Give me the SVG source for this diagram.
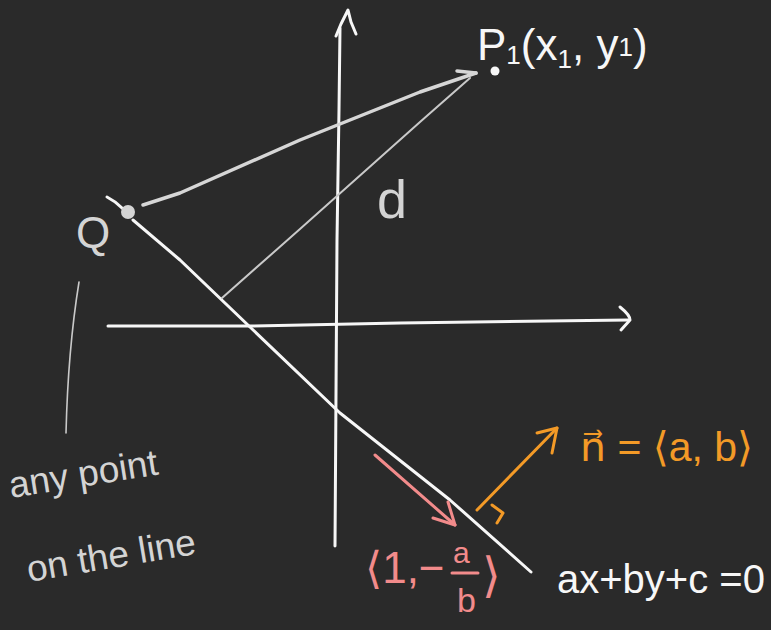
<svg xmlns="http://www.w3.org/2000/svg" width="771" height="630" viewBox="0 0 771 630">
<style>
.s{fill:none;stroke-linecap:round;stroke-linejoin:round}
.w{stroke:#f7f7f7;stroke-width:3}
.g{stroke:#d6d6d6;stroke-width:3.5}
.g2{stroke:#c9c9c9;stroke-width:2}
.g3{stroke:#c9c9c9;stroke-width:1.6}
.pk{stroke:#f28b8b;stroke-width:3}
.or{stroke:#f39a27;stroke-width:3}
text{font-family:"Liberation Sans","DejaVu Sans",sans-serif}
.tw{fill:#f7f7f7}
.tg{fill:#d4d4d4}
.tp{fill:#f28b8b}
.to{fill:#f39a27}
</style>
<rect width="771" height="630" fill="#2a2a2a"/>
<g id="axes">
<path class="s w" d="M335,546 L337,240 L339,110 L340,28"/>
<path class="s w" d="M336,36 L341,24 L348,10 L351,22 L356,34"/>
<path class="s w" d="M108,326 L250,326 L400,323 L628,320"/>
<path class="s w" d="M620,307 Q630,315 630,320 L621,330"/>
</g>
<g id="line">
<path class="s w" d="M107,197 Q115,201 122,208"/>
<path class="s w" d="M133,220 L180,260 L250,327 L340,413 L450,500 L531,572"/>
<text class="tw" x="557" y="593" font-size="40">ax+by+c =0</text>
</g>
<g id="point-Q">
<circle cx="128" cy="212" r="7" fill="#d4d4d4"/>
<text class="tg" x="76" y="248" font-size="44">Q</text>
</g>
<g id="point-P">
<circle cx="495" cy="71" r="4.5" fill="#f7f7f7"/>
<text class="tw" x="477" y="60" font-size="44">P<tspan font-size="26" dy="4">1</tspan><tspan dy="-4">(x</tspan><tspan font-size="26" dy="8">1</tspan><tspan dy="-8">, y</tspan><tspan font-size="26" dy="-4">1</tspan><tspan dy="4">)</tspan></text>
</g>
<g id="connectors">
<path class="s g" d="M143,205 L180,193 L300,140 L420,92 L476,73"/>
<path class="s g" d="M457,71 L476,73"/>
<path class="s g2" d="M222,298 L300,229 L420,122 L470,78"/>
<path class="s g3" d="M79,282 Q68,350 66,433"/>
<path class="s pk" d="M375,455 L455,525"/>
<path class="s pk" d="M433,518 L455,525 L448,502"/>
<path class="s or" d="M477,510 L557,428"/>
<path class="s or" d="M537,433 L557,428 L552,453"/>
<path class="s or" d="M492,505 L503,513 L497,523"/>
</g>
<g id="label-d">
<text class="tg" x="377" y="218" font-size="54">d</text>
</g>
<g id="label-any-point">
<text class="tg" font-size="37" transform="translate(11,498) rotate(-9)">any point</text>
<text class="tg" font-size="37" transform="translate(29,582) rotate(-9.5)">on the line</text>
</g>
<g id="label-normal">
<text class="to" x="580" y="461" font-size="41">n⃗ = ⟨a, b⟩</text>
</g>
<g id="label-direction">
<text class="tp" x="365" y="583" font-size="44">⟨1,−</text>
<text class="tp" x="453" y="563" font-size="30">a</text>
<path class="s pk" d="M452,573 L478,573"/>
<text class="tp" x="457" y="612" font-size="34">b</text>
<text class="tp" x="482" y="592" font-size="48">⟩</text>
</g>
</svg>
